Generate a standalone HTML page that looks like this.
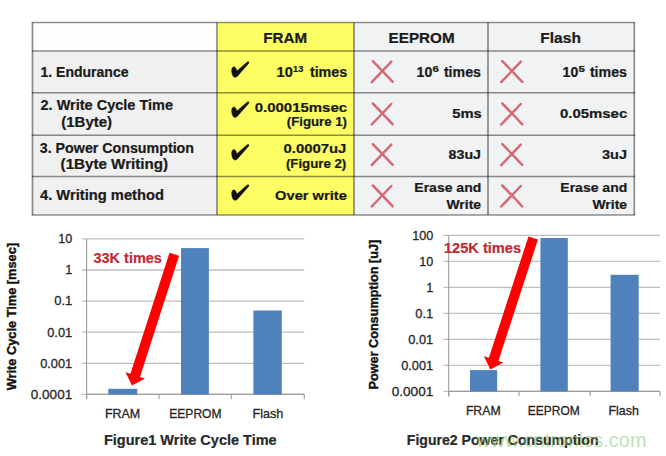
<!DOCTYPE html>
<html><head><meta charset="utf-8"><style>
html,body{margin:0;padding:0;background:#fff;width:666px;height:456px;overflow:hidden}
svg{display:block;font-family:"Liberation Sans",sans-serif}
</style></head><body>
<svg width="666" height="456" viewBox="0 0 666 456">
<rect width="666" height="456" fill="#fff"/>
<rect x="32.5" y="22.5" width="184.5" height="28.5" fill="#fdfdfd"/>
<rect x="32.5" y="51" width="184.5" height="164" fill="#f0f0f1"/>
<rect x="217" y="22.5" width="137" height="192.5" fill="#fcfe64"/>
<rect x="354" y="22.5" width="280.29999999999995" height="192.5" fill="#f1f2f4"/>
<line x1="32.5" y1="22.5" x2="32.5" y2="215" stroke="rgba(0,0,0,0.44)" stroke-width="1.7"/>
<line x1="217" y1="22.5" x2="217" y2="215" stroke="rgba(0,0,0,0.44)" stroke-width="1.7"/>
<line x1="354" y1="22.5" x2="354" y2="215" stroke="rgba(0,0,0,0.44)" stroke-width="1.7"/>
<line x1="488" y1="22.5" x2="488" y2="215" stroke="rgba(0,0,0,0.44)" stroke-width="1.7"/>
<line x1="634.3" y1="22.5" x2="634.3" y2="215" stroke="rgba(0,0,0,0.44)" stroke-width="1.7"/>
<line x1="31.7" y1="22.5" x2="635.0999999999999" y2="22.5" stroke="rgba(0,0,0,0.44)" stroke-width="1.6"/>
<line x1="31.7" y1="51" x2="635.0999999999999" y2="51" stroke="rgba(0,0,0,0.44)" stroke-width="1.6"/>
<line x1="31.7" y1="92.8" x2="635.0999999999999" y2="92.8" stroke="rgba(0,0,0,0.44)" stroke-width="1.6"/>
<line x1="31.7" y1="135.3" x2="635.0999999999999" y2="135.3" stroke="rgba(0,0,0,0.44)" stroke-width="1.6"/>
<line x1="31.7" y1="176.5" x2="635.0999999999999" y2="176.5" stroke="rgba(0,0,0,0.44)" stroke-width="1.6"/>
<line x1="31.7" y1="215" x2="635.0999999999999" y2="215" stroke="rgba(0,0,0,0.44)" stroke-width="1.6"/>
<text x="263.3" y="42.7" font-size="14.5" font-weight="bold" fill="#1a1a1a" stroke="#1a1a1a" stroke-width="0.22" text-anchor="start" textLength="43.8" lengthAdjust="spacingAndGlyphs" >FRAM</text>
<text x="388.6" y="42.7" font-size="14.5" font-weight="bold" fill="#1a1a1a" stroke="#1a1a1a" stroke-width="0.22" text-anchor="start" textLength="66" lengthAdjust="spacingAndGlyphs" >EEPROM</text>
<text x="540.3" y="42.7" font-size="14.5" font-weight="bold" fill="#1a1a1a" stroke="#1a1a1a" stroke-width="0.22" text-anchor="start" textLength="40.6" lengthAdjust="spacingAndGlyphs" >Flash</text>
<text x="40.5" y="76.8" font-size="14" font-weight="bold" fill="#1a1a1a" stroke="#1a1a1a" stroke-width="0.22" text-anchor="start" textLength="88" lengthAdjust="spacingAndGlyphs" >1. Endurance</text>
<text x="40.5" y="110.4" font-size="14" font-weight="bold" fill="#1a1a1a" stroke="#1a1a1a" stroke-width="0.22" text-anchor="start" textLength="132.5" lengthAdjust="spacingAndGlyphs" >2. Write Cycle Time</text>
<text x="61.3" y="127.0" font-size="14" font-weight="bold" fill="#1a1a1a" stroke="#1a1a1a" stroke-width="0.22" text-anchor="start" textLength="50.8" lengthAdjust="spacingAndGlyphs" >(1Byte)</text>
<text x="39.8" y="152.6" font-size="14" font-weight="bold" fill="#1a1a1a" stroke="#1a1a1a" stroke-width="0.22" text-anchor="start" textLength="154.2" lengthAdjust="spacingAndGlyphs" >3. Power Consumption</text>
<text x="60.6" y="168.9" font-size="14" font-weight="bold" fill="#1a1a1a" stroke="#1a1a1a" stroke-width="0.22" text-anchor="start" textLength="107.5" lengthAdjust="spacingAndGlyphs" >(1Byte Writing)</text>
<text x="40" y="200.2" font-size="14" font-weight="bold" fill="#1a1a1a" stroke="#1a1a1a" stroke-width="0.22" text-anchor="start" textLength="124" lengthAdjust="spacingAndGlyphs" >4. Writing method</text>
<text x="276.6" y="76.5" font-size="14" font-weight="bold" fill="#1a1a1a" stroke="#1a1a1a" stroke-width="0.22" text-anchor="start" textLength="16.2" lengthAdjust="spacingAndGlyphs" >10</text>
<text x="293.1" y="72.2" font-size="9" font-weight="bold" fill="#1a1a1a" stroke="#1a1a1a" stroke-width="0.22" text-anchor="start" textLength="10.2" lengthAdjust="spacingAndGlyphs" >13</text>
<text x="309.9" y="76.5" font-size="14" font-weight="bold" fill="#1a1a1a" stroke="#1a1a1a" stroke-width="0.22" text-anchor="start" textLength="37.3" lengthAdjust="spacingAndGlyphs" >times</text>
<text x="254.7" y="111.6" font-size="13.5" font-weight="bold" fill="#1a1a1a" stroke="#1a1a1a" stroke-width="0.22" text-anchor="start" textLength="92.4" lengthAdjust="spacingAndGlyphs" >0.00015msec</text>
<text x="286.8" y="125.6" font-size="12" font-weight="bold" fill="#1a1a1a" stroke="#1a1a1a" stroke-width="0.22" text-anchor="start" textLength="60.2" lengthAdjust="spacingAndGlyphs" >(Figure 1)</text>
<text x="283.5" y="152.7" font-size="13.5" font-weight="bold" fill="#1a1a1a" stroke="#1a1a1a" stroke-width="0.22" text-anchor="start" textLength="62.9" lengthAdjust="spacingAndGlyphs" >0.0007uJ</text>
<text x="285.9" y="167.9" font-size="12" font-weight="bold" fill="#1a1a1a" stroke="#1a1a1a" stroke-width="0.22" text-anchor="start" textLength="60.4" lengthAdjust="spacingAndGlyphs" >(Figure 2)</text>
<text x="275.1" y="200" font-size="13.5" font-weight="bold" fill="#1a1a1a" stroke="#1a1a1a" stroke-width="0.22" text-anchor="start" textLength="71.7" lengthAdjust="spacingAndGlyphs" >Over write</text>
<text x="416.6" y="76.5" font-size="14" font-weight="bold" fill="#1a1a1a" stroke="#1a1a1a" stroke-width="0.22" text-anchor="start" textLength="15.6" lengthAdjust="spacingAndGlyphs" >10</text>
<text x="432.5" y="72.0" font-size="9" font-weight="bold" fill="#1a1a1a" stroke="#1a1a1a" stroke-width="0.22" text-anchor="start" textLength="6.4" lengthAdjust="spacingAndGlyphs" >6</text>
<text x="443.9" y="76.5" font-size="14" font-weight="bold" fill="#1a1a1a" stroke="#1a1a1a" stroke-width="0.22" text-anchor="start" textLength="37" lengthAdjust="spacingAndGlyphs" >times</text>
<text x="562.6" y="76.5" font-size="14" font-weight="bold" fill="#1a1a1a" stroke="#1a1a1a" stroke-width="0.22" text-anchor="start" textLength="15.6" lengthAdjust="spacingAndGlyphs" >10</text>
<text x="578.5" y="72.0" font-size="9" font-weight="bold" fill="#1a1a1a" stroke="#1a1a1a" stroke-width="0.22" text-anchor="start" textLength="6.4" lengthAdjust="spacingAndGlyphs" >5</text>
<text x="589.9" y="76.5" font-size="14" font-weight="bold" fill="#1a1a1a" stroke="#1a1a1a" stroke-width="0.22" text-anchor="start" textLength="37" lengthAdjust="spacingAndGlyphs" >times</text>
<text x="452.2" y="118.1" font-size="13.5" font-weight="bold" fill="#1a1a1a" stroke="#1a1a1a" stroke-width="0.22" text-anchor="start" textLength="29.5" lengthAdjust="spacingAndGlyphs" >5ms</text>
<text x="448.6" y="159.3" font-size="13.5" font-weight="bold" fill="#1a1a1a" stroke="#1a1a1a" stroke-width="0.22" text-anchor="start" textLength="32.4" lengthAdjust="spacingAndGlyphs" >83uJ</text>
<text x="414.3" y="192.3" font-size="13.5" font-weight="bold" fill="#1a1a1a" stroke="#1a1a1a" stroke-width="0.22" text-anchor="start" textLength="67" lengthAdjust="spacingAndGlyphs" >Erase and</text>
<text x="446.5" y="208.5" font-size="13.5" font-weight="bold" fill="#1a1a1a" stroke="#1a1a1a" stroke-width="0.22" text-anchor="start" textLength="34.5" lengthAdjust="spacingAndGlyphs" >Write</text>
<text x="560" y="118.1" font-size="13.5" font-weight="bold" fill="#1a1a1a" stroke="#1a1a1a" stroke-width="0.22" text-anchor="start" textLength="67.2" lengthAdjust="spacingAndGlyphs" >0.05msec</text>
<text x="602" y="159.3" font-size="13.5" font-weight="bold" fill="#1a1a1a" stroke="#1a1a1a" stroke-width="0.22" text-anchor="start" textLength="25" lengthAdjust="spacingAndGlyphs" >3uJ</text>
<text x="560.3" y="192.3" font-size="13.5" font-weight="bold" fill="#1a1a1a" stroke="#1a1a1a" stroke-width="0.22" text-anchor="start" textLength="67" lengthAdjust="spacingAndGlyphs" >Erase and</text>
<text x="592.5" y="208.5" font-size="13.5" font-weight="bold" fill="#1a1a1a" stroke="#1a1a1a" stroke-width="0.22" text-anchor="start" textLength="34.5" lengthAdjust="spacingAndGlyphs" >Write</text>
<path d="M231.7 71 C231.5 68 232.8 66.8 234 66.8 C235.4 66.9 236.2 68.8 236.9 71 L247.2 62.1 C248.2 61.2 249.5 62 248.8 63.2 L237.6 76 C236.4 77.4 234.6 77.8 233.4 76.6 C232.3 75.3 231.8 73.5 231.7 71 Z" fill="#111" stroke="#111" stroke-width="0.45" transform="translate(0 0)"/>
<path d="M231.7 71 C231.5 68 232.8 66.8 234 66.8 C235.4 66.9 236.2 68.8 236.9 71 L247.2 62.1 C248.2 61.2 249.5 62 248.8 63.2 L237.6 76 C236.4 77.4 234.6 77.8 233.4 76.6 C232.3 75.3 231.8 73.5 231.7 71 Z" fill="#111" stroke="#111" stroke-width="0.45" transform="translate(0 40.1)"/>
<path d="M231.7 71 C231.5 68 232.8 66.8 234 66.8 C235.4 66.9 236.2 68.8 236.9 71 L247.2 62.1 C248.2 61.2 249.5 62 248.8 63.2 L237.6 76 C236.4 77.4 234.6 77.8 233.4 76.6 C232.3 75.3 231.8 73.5 231.7 71 Z" fill="#111" stroke="#111" stroke-width="0.45" transform="translate(0 82.7)"/>
<path d="M231.7 71 C231.5 68 232.8 66.8 234 66.8 C235.4 66.9 236.2 68.8 236.9 71 L247.2 62.1 C248.2 61.2 249.5 62 248.8 63.2 L237.6 76 C236.4 77.4 234.6 77.8 233.4 76.6 C232.3 75.3 231.8 73.5 231.7 71 Z" fill="#111" stroke="#111" stroke-width="0.45" transform="translate(0 123)"/>
<g transform="translate(382.1 71.1)" stroke="#d36a76" stroke-width="2.5" stroke-linecap="round" fill="none"><path d="M-9.3 -10 Q0 -0.6 10.6 10.8"/><path d="M9.2 -9.5 Q0 0.2 -10.4 11"/></g>
<g transform="translate(511.6 71.1)" stroke="#d36a76" stroke-width="2.5" stroke-linecap="round" fill="none"><path d="M-9.3 -10 Q0 -0.6 10.6 10.8"/><path d="M9.2 -9.5 Q0 0.2 -10.4 11"/></g>
<g transform="translate(382.1 113.5)" stroke="#d36a76" stroke-width="2.5" stroke-linecap="round" fill="none"><path d="M-9.3 -10 Q0 -0.6 10.6 10.8"/><path d="M9.2 -9.5 Q0 0.2 -10.4 11"/></g>
<g transform="translate(511.6 113.5)" stroke="#d36a76" stroke-width="2.5" stroke-linecap="round" fill="none"><path d="M-9.3 -10 Q0 -0.6 10.6 10.8"/><path d="M9.2 -9.5 Q0 0.2 -10.4 11"/></g>
<g transform="translate(382.1 154.1)" stroke="#d36a76" stroke-width="2.5" stroke-linecap="round" fill="none"><path d="M-9.3 -10 Q0 -0.6 10.6 10.8"/><path d="M9.2 -9.5 Q0 0.2 -10.4 11"/></g>
<g transform="translate(511.6 154.1)" stroke="#d36a76" stroke-width="2.5" stroke-linecap="round" fill="none"><path d="M-9.3 -10 Q0 -0.6 10.6 10.8"/><path d="M9.2 -9.5 Q0 0.2 -10.4 11"/></g>
<g transform="translate(382.1 195.5)" stroke="#d36a76" stroke-width="2.5" stroke-linecap="round" fill="none"><path d="M-9.3 -10 Q0 -0.6 10.6 10.8"/><path d="M9.2 -9.5 Q0 0.2 -10.4 11"/></g>
<g transform="translate(511.6 195.5)" stroke="#d36a76" stroke-width="2.5" stroke-linecap="round" fill="none"><path d="M-9.3 -10 Q0 -0.6 10.6 10.8"/><path d="M9.2 -9.5 Q0 0.2 -10.4 11"/></g>
<line x1="82" y1="238.90" x2="304.3" y2="238.90" stroke="#bfbfbf" stroke-width="1.3"/>
<line x1="82" y1="270.00" x2="304.3" y2="270.00" stroke="#bfbfbf" stroke-width="1.3"/>
<line x1="82" y1="301.10" x2="304.3" y2="301.10" stroke="#bfbfbf" stroke-width="1.3"/>
<line x1="82" y1="332.20" x2="304.3" y2="332.20" stroke="#bfbfbf" stroke-width="1.3"/>
<line x1="82" y1="363.30" x2="304.3" y2="363.30" stroke="#bfbfbf" stroke-width="1.3"/>
<line x1="82" y1="394.40" x2="304.3" y2="394.40" stroke="#bfbfbf" stroke-width="1.3"/>
<line x1="86.6" y1="238.9" x2="86.6" y2="399.20" stroke="#9c9c9c" stroke-width="1.1"/>
<line x1="86.6" y1="394.40" x2="304.3" y2="394.40" stroke="#9c9c9c" stroke-width="1.1"/>
<line x1="86.6" y1="394.40" x2="86.6" y2="399.20" stroke="#9c9c9c" stroke-width="1.1"/>
<line x1="159" y1="394.40" x2="159" y2="399.20" stroke="#9c9c9c" stroke-width="1.1"/>
<line x1="231.3" y1="394.40" x2="231.3" y2="399.20" stroke="#9c9c9c" stroke-width="1.1"/>
<line x1="304.3" y1="394.40" x2="304.3" y2="399.20" stroke="#9c9c9c" stroke-width="1.1"/>
<rect x="108.3" y="388.8" width="29.00" height="5.60" fill="#4f81bd"/>
<rect x="181" y="248.1" width="27.90" height="146.30" fill="#4f81bd"/>
<rect x="253.4" y="310.5" width="28.40" height="83.90" fill="#4f81bd"/>
<text x="72.2" y="243.20" font-size="13" font-weight="normal" fill="#262626" stroke="#262626" stroke-width="0.3" text-anchor="end" textLength="14" lengthAdjust="spacingAndGlyphs" >10</text>
<text x="72.2" y="274.30" font-size="13" font-weight="normal" fill="#262626" stroke="#262626" stroke-width="0.3" text-anchor="end" textLength="7" lengthAdjust="spacingAndGlyphs" >1</text>
<text x="72.2" y="305.40" font-size="13" font-weight="normal" fill="#262626" stroke="#262626" stroke-width="0.3" text-anchor="end" textLength="18" lengthAdjust="spacingAndGlyphs" >0.1</text>
<text x="72.2" y="336.50" font-size="13" font-weight="normal" fill="#262626" stroke="#262626" stroke-width="0.3" text-anchor="end" textLength="25" lengthAdjust="spacingAndGlyphs" >0.01</text>
<text x="72.2" y="367.60" font-size="13" font-weight="normal" fill="#262626" stroke="#262626" stroke-width="0.3" text-anchor="end" textLength="32" lengthAdjust="spacingAndGlyphs" >0.001</text>
<text x="72.2" y="398.70" font-size="13" font-weight="normal" fill="#262626" stroke="#262626" stroke-width="0.3" text-anchor="end" textLength="41.4" lengthAdjust="spacingAndGlyphs" >0.0001</text>
<line x1="443.4" y1="235.40" x2="660" y2="235.40" stroke="#bfbfbf" stroke-width="1.3"/>
<line x1="443.4" y1="261.40" x2="660" y2="261.40" stroke="#bfbfbf" stroke-width="1.3"/>
<line x1="443.4" y1="287.40" x2="660" y2="287.40" stroke="#bfbfbf" stroke-width="1.3"/>
<line x1="443.4" y1="313.40" x2="660" y2="313.40" stroke="#bfbfbf" stroke-width="1.3"/>
<line x1="443.4" y1="339.40" x2="660" y2="339.40" stroke="#bfbfbf" stroke-width="1.3"/>
<line x1="443.4" y1="365.40" x2="660" y2="365.40" stroke="#bfbfbf" stroke-width="1.3"/>
<line x1="443.4" y1="391.40" x2="660" y2="391.40" stroke="#bfbfbf" stroke-width="1.3"/>
<line x1="448.7" y1="235.4" x2="448.7" y2="396.20" stroke="#9c9c9c" stroke-width="1.1"/>
<line x1="448.7" y1="391.40" x2="660" y2="391.40" stroke="#9c9c9c" stroke-width="1.1"/>
<line x1="448.7" y1="391.40" x2="448.7" y2="396.20" stroke="#9c9c9c" stroke-width="1.1"/>
<line x1="519" y1="391.40" x2="519" y2="396.20" stroke="#9c9c9c" stroke-width="1.1"/>
<line x1="590.1" y1="391.40" x2="590.1" y2="396.20" stroke="#9c9c9c" stroke-width="1.1"/>
<line x1="660" y1="391.40" x2="660" y2="396.20" stroke="#9c9c9c" stroke-width="1.1"/>
<rect x="470" y="370.1" width="27.20" height="21.30" fill="#4f81bd"/>
<rect x="540.4" y="238" width="27.40" height="153.40" fill="#4f81bd"/>
<rect x="610.6" y="274.8" width="28.10" height="116.60" fill="#4f81bd"/>
<text x="433.2" y="239.70" font-size="13" font-weight="normal" fill="#262626" stroke="#262626" stroke-width="0.3" text-anchor="end" textLength="21" lengthAdjust="spacingAndGlyphs" >100</text>
<text x="433.2" y="265.70" font-size="13" font-weight="normal" fill="#262626" stroke="#262626" stroke-width="0.3" text-anchor="end" textLength="14" lengthAdjust="spacingAndGlyphs" >10</text>
<text x="433.2" y="291.70" font-size="13" font-weight="normal" fill="#262626" stroke="#262626" stroke-width="0.3" text-anchor="end" textLength="7" lengthAdjust="spacingAndGlyphs" >1</text>
<text x="433.2" y="317.70" font-size="13" font-weight="normal" fill="#262626" stroke="#262626" stroke-width="0.3" text-anchor="end" textLength="18" lengthAdjust="spacingAndGlyphs" >0.1</text>
<text x="433.2" y="343.70" font-size="13" font-weight="normal" fill="#262626" stroke="#262626" stroke-width="0.3" text-anchor="end" textLength="25" lengthAdjust="spacingAndGlyphs" >0.01</text>
<text x="433.2" y="369.70" font-size="13" font-weight="normal" fill="#262626" stroke="#262626" stroke-width="0.3" text-anchor="end" textLength="32" lengthAdjust="spacingAndGlyphs" >0.001</text>
<text x="433.2" y="395.70" font-size="13" font-weight="normal" fill="#262626" stroke="#262626" stroke-width="0.3" text-anchor="end" textLength="41.4" lengthAdjust="spacingAndGlyphs" >0.0001</text>
<text x="104.9" y="418.1" font-size="13" font-weight="normal" fill="#262626" stroke="#262626" stroke-width="0.3" text-anchor="start" textLength="35.3" lengthAdjust="spacingAndGlyphs" >FRAM</text>
<text x="169.3" y="418.1" font-size="13" font-weight="normal" fill="#262626" stroke="#262626" stroke-width="0.3" text-anchor="start" textLength="52.2" lengthAdjust="spacingAndGlyphs" >EEPROM</text>
<text x="252.5" y="418.1" font-size="13" font-weight="normal" fill="#262626" stroke="#262626" stroke-width="0.3" text-anchor="start" textLength="30.8" lengthAdjust="spacingAndGlyphs" >Flash</text>
<text x="465.9" y="414.9" font-size="13" font-weight="normal" fill="#262626" stroke="#262626" stroke-width="0.3" text-anchor="start" textLength="34.7" lengthAdjust="spacingAndGlyphs" >FRAM</text>
<text x="527.8" y="414.9" font-size="13" font-weight="normal" fill="#262626" stroke="#262626" stroke-width="0.3" text-anchor="start" textLength="51.9" lengthAdjust="spacingAndGlyphs" >EEPROM</text>
<text x="608.5" y="414.9" font-size="13" font-weight="normal" fill="#262626" stroke="#262626" stroke-width="0.3" text-anchor="start" textLength="30.3" lengthAdjust="spacingAndGlyphs" >Flash</text>
<text x="103.9" y="445.3" font-size="14" font-weight="bold" fill="#2a2a2a" stroke="#2a2a2a" stroke-width="0.22" text-anchor="start" textLength="172.8" lengthAdjust="spacingAndGlyphs" >Figure1 Write Cycle Time</text>
<text x="406.8" y="445.4" font-size="14" font-weight="bold" fill="#2a2a2a" stroke="#2a2a2a" stroke-width="0.22" text-anchor="start" textLength="191.7" lengthAdjust="spacingAndGlyphs" >Figure2 Power Consumption</text>
<g transform="translate(16.3 390.3) rotate(-90)">
<text x="0" y="0" font-size="12.8" font-weight="bold" fill="#111" stroke="#111" stroke-width="0.4" text-anchor="start" textLength="147.3" lengthAdjust="spacingAndGlyphs" >Write Cycle Time [msec]</text>
</g>
<g transform="translate(377.7 389.4) rotate(-90)">
<text x="0" y="0" font-size="12.8" font-weight="bold" fill="#111" stroke="#111" stroke-width="0.4" text-anchor="start" textLength="149.6" lengthAdjust="spacingAndGlyphs" >Power Consumption [uJ]</text>
</g>
<text x="93.5" y="262.6" font-size="14" font-weight="bold" fill="#bb2d36" stroke="#bb2d36" stroke-width="0.22" text-anchor="start" textLength="68.4" lengthAdjust="spacingAndGlyphs" >33K times</text>
<text x="444" y="253.4" font-size="14" font-weight="bold" fill="#bb2d36" stroke="#bb2d36" stroke-width="0.22" text-anchor="start" textLength="77" lengthAdjust="spacingAndGlyphs" >125K times</text>
<path d="M169.54 252.67 L130.46 373.87 L125.47 372.26 L132.00 385.40 L144.98 378.55 L139.98 376.94 L179.06 255.73 Z" fill="#ff0000"/>
<path d="M528.45 236.45 L488.90 357.87 L483.91 356.24 L490.40 369.40 L503.40 362.59 L498.41 360.96 L537.95 239.55 Z" fill="#ff0000"/>
<text x="476" y="446.9" font-size="20.5" fill="#8ccf76" fill-opacity="0.6" textLength="170.5" lengthAdjust="spacingAndGlyphs">www.cntronics.com</text>
</svg>
</body></html>
